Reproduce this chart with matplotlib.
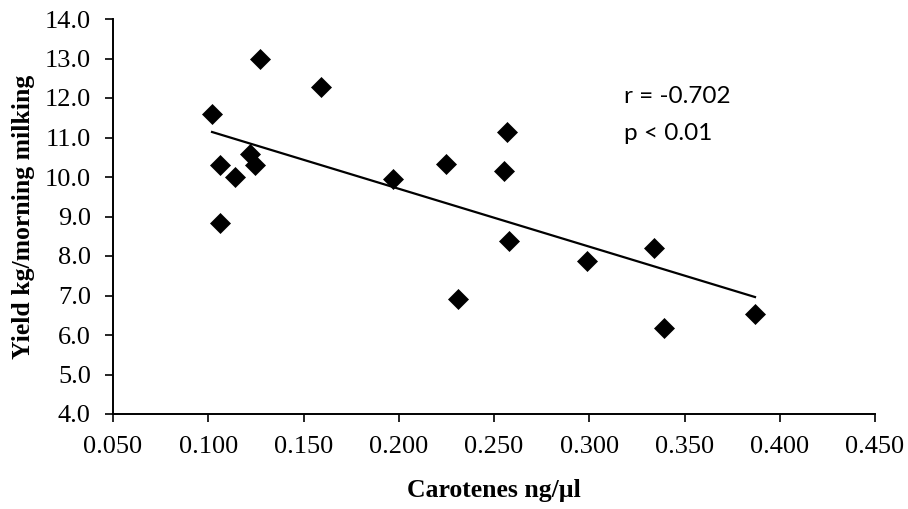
import numpy as np
import matplotlib
matplotlib.use('Agg')
import matplotlib.pyplot as plt

# carotenes (ng/ul) vs morning milk yield (kg)
carotenes = [0.102, 0.127, 0.159, 0.106, 0.114, 0.122, 0.1245, 0.106, 0.197, 0.225,
             0.257, 0.255, 0.258, 0.231, 0.299, 0.334, 0.339, 0.387]
yield_kg = [11.60, 12.99, 12.29, 10.30, 10.00, 10.58, 10.30, 8.83, 9.96, 10.33,
            11.15, 10.16, 8.39, 6.90, 7.87, 8.21, 6.17, 6.53]
x_ticks = [0.05, 0.10, 0.15, 0.20, 0.25, 0.30, 0.35, 0.40, 0.45]
y_ticks = [4, 5, 6, 7, 8, 9, 10, 11, 12, 13, 14]
stats_text = ['r = -0.702', 'p < 0.01']

serif = 'Liberation Serif'

fig = plt.figure(figsize=(9.08, 5.09), dpi=100)
ax = fig.add_axes([113 / 908, 1 - 414 / 509, (875 - 113) / 908, (414 - 19) / 509])

ax.plot(carotenes, yield_kg, 'D', color='black', markersize=10, markeredgewidth=0.5,
        linestyle='none', zorder=3)

# linear trendline over the data range
slope, icpt = np.polyfit(carotenes, yield_kg, 1)
xs = np.array([min(carotenes), max(carotenes)])
ax.plot(xs, slope * xs + icpt, color='black', linewidth=1.6, zorder=2)

ax.set_xlim(0.05, 0.45)
ax.set_ylim(4, 14)
ax.set_xticks(x_ticks)
ax.set_yticks(y_ticks)
ax.set_xticklabels(['%.3f' % v for v in x_ticks], fontfamily=serif, fontsize=19)
ax.set_yticklabels(['%.1f' % v for v in y_ticks], fontfamily=serif, fontsize=19)
ax.tick_params(direction='out', length=6, width=1.2)
ax.tick_params(axis='x', pad=10)
ax.tick_params(axis='y', pad=10)

for side in ['top', 'right']:
    ax.spines[side].set_visible(False)
for side in ['left', 'bottom']:
    ax.spines[side].set_linewidth(1.4)

ax.set_xlabel('Carotenes ng/µl', fontfamily=serif, fontsize=18.5, fontweight='bold', labelpad=15)
ax.set_ylabel('Yield kg/morning milking', fontfamily=serif, fontsize=18.5, fontweight='bold',
              labelpad=7)

ax.text(0.318, 11.87, stats_text[0], fontfamily='Lato', fontsize=17.5, va='baseline')
ax.text(0.318, 10.94, stats_text[1], fontfamily='Lato', fontsize=17.5, va='baseline')

fig.savefig('out.png', dpi=100)
